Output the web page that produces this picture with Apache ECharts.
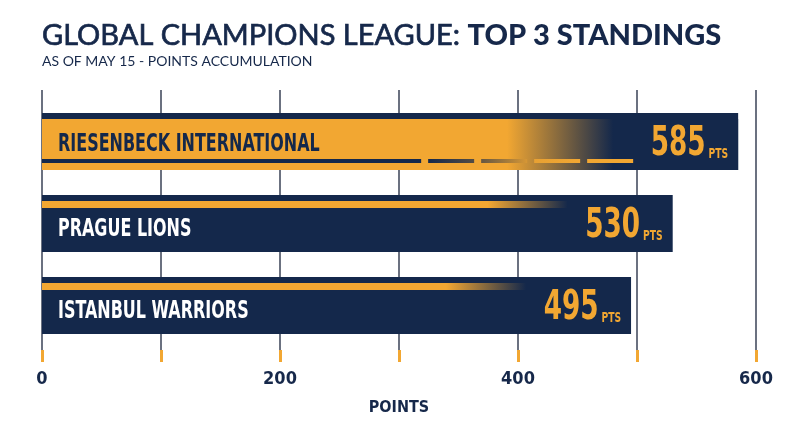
<!DOCTYPE html>
<html><head><meta charset="utf-8">
<script src="https://cdn.jsdelivr.net/npm/echarts@6/dist/echarts.min.js"></script>
<style>html,body{margin:0;padding:0;background:#fff}#c{width:800px;height:447px}</style>
</head><body><div id="c"></div>
<script>
// ---- data ----
const categories = ['RIESENBECK INTERNATIONAL', 'PRAGUE LIONS', 'ISTANBUL WARRIORS'];
const points = [585, 530, 495];
const unitLabel = 'PTS';
const axisName = 'POINTS';
const tickLabels = [0, 200, 400, 600];
const titleMain = 'GLOBAL CHAMPIONS LEAGUE: ';
const titleBold = 'TOP 3 STANDINGS';
const subtitle = 'AS OF MAY 15 - POINTS ACCUMULATION';

// ---- styles ----
const NAVY = '#14284b', YELLOW = '#f2a732', INK = '#16284a', GRIDC = '#3a4256';
const COND = '"DejaVu Sans Condensed","Liberation Sans Narrow",sans-serif';

function hex2rgb(h) { return [1, 3, 5].map(k => parseInt(h.substr(k, 2), 16)); }
function mix(t) {
  t = Math.max(0, Math.min(1, t));
  const a = hex2rgb(NAVY), b = hex2rgb(YELLOW);
  return 'rgb(' + a.map((c, k) => Math.round(c + (b[k] - c) * t)).join(',') + ')';
}

const chart = echarts.init(document.getElementById('c'), null, {renderer: 'canvas'});

function renderItem(params, api) {
  const v = api.value(0), i = api.value(1);
  const s = api.coord([0, i]), e = api.coord([v, i]);
  const h = api.size([0, 1])[1] * 0.695;
  const x0 = s[0], x1 = e[0], cy = s[1], top = cy - h / 2, bot = cy + h / 2, w = x1 - x0;
  const children = [{type: 'rect', shape: {x: x0, y: top, width: w, height: h}, style: {fill: NAVY}}];
  let areaTop;
  if (i === 0) {
    areaTop = top + 6;
    const gA = (w - 231) / w, gB = (w - 125) / w;
    children.push({type: 'rect', shape: {x: x0, y: top + 6, width: w, height: h - 6},
      style: {fill: new echarts.graphic.LinearGradient(0, 0, 1, 0, [
        {offset: 0, color: YELLOW}, {offset: gA, color: YELLOW}, {offset: gB, color: NAVY}, {offset: 1, color: NAVY}])}});
    const ly0 = bot - 11, lh = 4;
    const dashEnd = x1 - 105, dl = 46, gap = 7, n = 4;
    const dashStart = dashEnd - n * dl - (n - 1) * gap;
    const cA = x1 - 290, cB = x1 - 200;
    const colAt = x => mix((x - cA) / (cB - cA));
    children.push({type: 'rect', shape: {x: x0, y: ly0, width: dashStart - gap - x0, height: lh}, style: {fill: NAVY}});
    for (let k = 0; k < n; k++) {
      const dx = dashStart + k * (dl + gap);
      children.push({type: 'rect', shape: {x: dx, y: ly0, width: dl, height: lh},
        style: {fill: new echarts.graphic.LinearGradient(0, 0, 1, 0, [{offset: 0, color: colAt(dx)}, {offset: 1, color: colAt(dx + dl)}])}});
    }
  } else {
    areaTop = top + 13;
    const sEnd = x1 - 105, fade = 80;
    children.push({type: 'rect', shape: {x: x0, y: top + 6, width: sEnd - x0, height: 7},
      style: {fill: new echarts.graphic.LinearGradient(0, 0, 1, 0, [
        {offset: 0, color: YELLOW}, {offset: (sEnd - fade - x0) / (sEnd - x0), color: YELLOW}, {offset: 1, color: 'rgba(242,167,50,0)'}])}});
  }
  children.push({type: 'text', x: x0 + 16, y: (areaTop + bot) / 2, scaleX: 0.71,
    style: {text: categories[i], fill: i === 0 ? NAVY : '#ffffff', fontFamily: COND, fontWeight: 'bold', fontSize: 25, align: 'left', verticalAlign: 'middle'}});
  children.push({type: 'text', x: x1 - 10, y: cy + 23, scaleX: 0.73,
    style: {text: '{n|' + v + '}{p|' + unitLabel + '}', align: 'right', verticalAlign: 'bottom',
      rich: {
        n: {fontSize: 40, lineHeight: 40, fontFamily: COND, fontWeight: 'bold', fill: YELLOW, verticalAlign: 'bottom'},
        p: {fontSize: 14, lineHeight: 14, fontFamily: COND, fontWeight: 'bold', fill: YELLOW, verticalAlign: 'bottom', padding: [0, 0, 3, 4]}
      }}});
  return {type: 'group', children};
}

chart.setOption({
  backgroundColor: '#ffffff',
  animation: false,
  title: {
    left: 37, top: 16, itemGap: 4,
    text: '{a|' + titleMain + '}{b|' + titleBold + '}',
    textStyle: {rich: {
      a: {fontFamily: 'Lato', fontWeight: 'normal', fontSize: 29, color: INK, textBorderColor: INK, textBorderWidth: 0.7},
      b: {fontFamily: 'Lato', fontWeight: 900, fontSize: 29, color: INK}
    }},
    subtext: subtitle,
    subtextStyle: {fontFamily: 'Lato', fontSize: 14, color: INK}
  },
  grid: {left: 42, right: 44, top: 90, bottom: 97, containLabel: false},
  xAxis: {
    type: 'value', min: 0, max: 600, interval: 100, position: 'bottom',
    axisLine: {show: true, onZero: false, lineStyle: {color: 'rgba(0,0,0,0)', width: 0}},
    axisTick: {show: true, length: 12, lineStyle: {color: YELLOW, width: 3}},
    splitLine: {show: true, lineStyle: {color: GRIDC, width: 1.5}},
    axisLabel: {margin: 20, fontFamily: COND, fontWeight: 'bold', fontSize: 18, color: INK,
      showMinLabel: true, showMaxLabel: true,
      formatter: v => tickLabels.includes(v) ? String(v) : ''},
    name: axisName, nameLocation: 'middle', nameGap: 50,
    nameTextStyle: {fontFamily: COND, fontWeight: 'bold', fontSize: 16, color: INK}
  },
  yAxis: {type: 'value', inverse: true, min: -0.628, max: 2.543, show: false},
  series: [{
    type: 'custom',
    renderItem: renderItem,
    encode: {x: 0, y: 1},
    data: points.map((p, i) => [p, i])
  }]
});
</script></body></html>
